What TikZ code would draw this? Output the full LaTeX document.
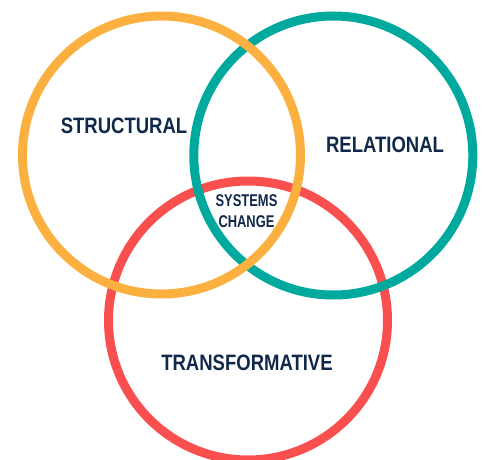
\documentclass[tikz,border=0pt]{standalone}
\usepackage{fontspec}
\newfontfamily\labelfont{Liberation Sans}[FakeStretch=0.83]
\newfontfamily\corefont{Liberation Sans}[FakeStretch=0.76]
\definecolor{ringorange}{HTML}{FBB040}
\definecolor{ringteal}{HTML}{00A99D}
\definecolor{ringred}{HTML}{F9504F}
\definecolor{labelnavy}{HTML}{10294A}
\tikzset{
  ring/.style={line width=9pt},
  lens/.style={text=labelnavy, font=\labelfont\bfseries\fontsize{22.3}{26}\selectfont, inner sep=0pt},
  core/.style={text=labelnavy, font=\corefont\bfseries\fontsize{17}{21.2}\selectfont, align=center, inner sep=0pt}
}
\begin{document}
\begin{tikzpicture}[x=1pt,y=-1pt]
      \useasboundingbox (0,0) rectangle (483,460);
      \begin{scope}[ring]
        \draw[ringred] (248,320.5) circle (139.5);
        \draw[ringteal] (333.3,155.5) circle (139.5);
        \draw[ringorange] (161.5,155) circle (139);
      \end{scope}
      \draw
        (124,126) node[lens] (structural){STRUCTURAL}
        (385,145.3) node[lens] (relational){RELATIONAL}
        (247,363) node[lens] (transformative){TRANSFORMATIVE}
        (246.5,211) node[core] (systems){SYSTEMS\\CHANGE};
    \end{tikzpicture}
\end{document}
